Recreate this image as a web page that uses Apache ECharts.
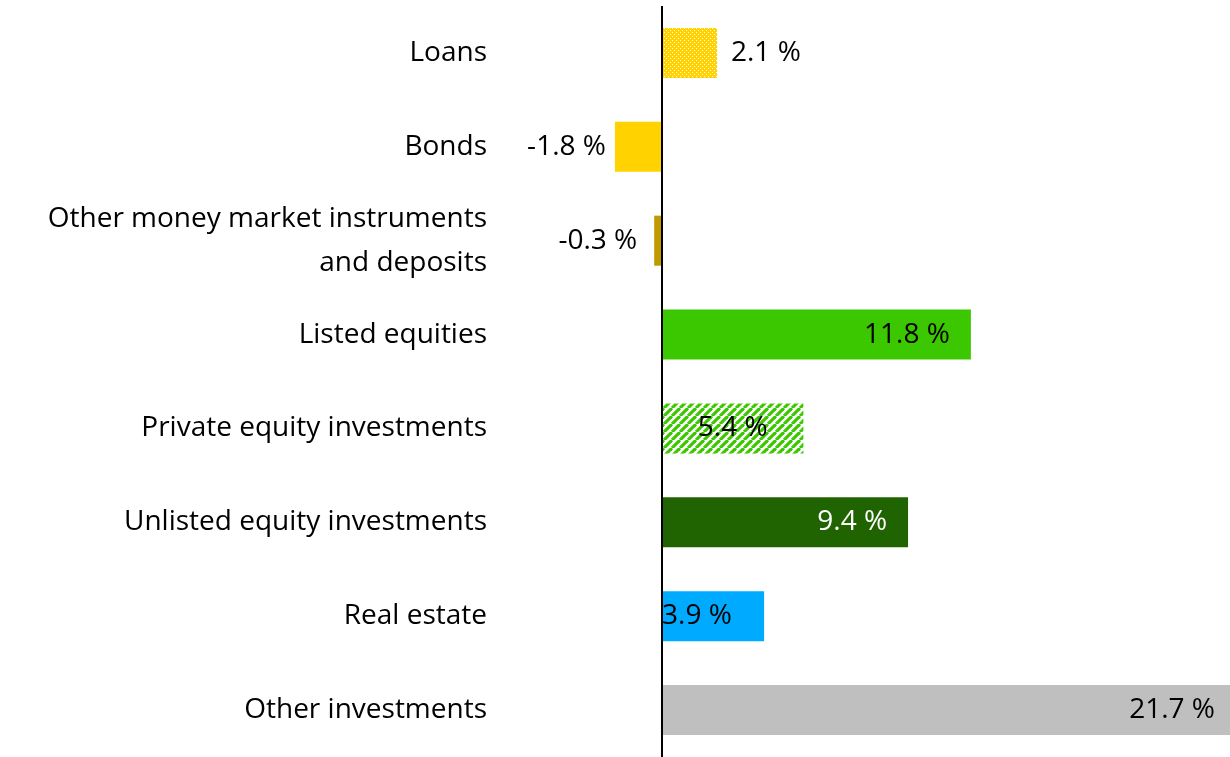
<!DOCTYPE html>
<html>
<head>
<meta charset="utf-8">
<script src="https://cdn.jsdelivr.net/npm/echarts@6/dist/echarts.min.js"></script>
<style>
  html, body { margin: 0; padding: 0; background: #fff; }
  #chart { width: 1230px; height: 757px; }
</style>
</head>
<body>
<div id="chart"></div>
<script>
const categories = [
  'Loans',
  'Bonds',
  'Other money market instruments\nand deposits',
  'Listed equities',
  'Private equity investments',
  'Unlisted equity investments',
  'Real estate',
  'Other investments'
];
const values = [2.1, -1.8, -0.3, 11.8, 5.4, 9.4, 3.9, 21.7];

// small canvas tiles for the two patterned bars
function dotTile() {
  const c = document.createElement('canvas');
  c.width = 4; c.height = 4;
  const g = c.getContext('2d');
  g.fillStyle = '#FFD200';
  g.fillRect(0, 0, 4, 4);
  g.fillStyle = '#ffffff';
  g.fillRect(0, 0, 1, 1);
  g.fillRect(2, 2, 1, 1);
  return c;
}
function stripeTile() {
  const s = 8;
  const c = document.createElement('canvas');
  c.width = s; c.height = s;
  const g = c.getContext('2d');
  g.fillStyle = '#ffffff';
  g.fillRect(0, 0, s, s);
  g.strokeStyle = '#3CC800';
  g.lineWidth = 3.2;
  for (let k = -1; k <= 1; k++) {
    g.beginPath();
    g.moveTo(k * s, s);
    g.lineTo(k * s + s, 0);
    g.stroke();
  }
  return c;
}

const fills = [
  { image: dotTile(), repeat: 'repeat' },
  '#FFD200',
  '#C09A00',
  '#3CC800',
  { image: stripeTile(), repeat: 'repeat' },
  '#1F6400',
  '#00AAFF',
  '#BFBFBF'
];
const labelPos = ['right', 'left', 'left', 'insideRight', 'inside', 'insideRight', 'insideLeft', 'insideRight'];
const labelDist = [14, 9, 17, 21, 0, 21, 0, 15];
const labelColor = ['#000', '#000', '#000', '#000', '#000', '#fff', '#000', '#000'];

const FONT = 'Open Sans';

const chart = echarts.init(document.getElementById('chart'));

chart.setOption({
  animation: false,
  grid: { left: 505, right: 0, top: 6, bottom: -2 },
  xAxis: {
    type: 'value',
    min: -6,
    max: 21.7,
    show: false
  },
  yAxis: {
    type: 'category',
    inverse: true,
    data: categories,
    axisLine: { show: false },
    axisTick: { show: false },
    splitLine: { show: false },
    axisLabel: {
      margin: 18,
      color: '#000',
      fontFamily: FONT,
      fontSize: 28,
      lineHeight: 44,
      align: 'right'
    }
  },
  series: [{
    type: 'bar',
    barWidth: 50,
    data: values.map((v, i) => ({
      value: v,
      itemStyle: { color: fills[i] },
      label: {
        show: true,
        position: labelPos[i],
        distance: labelDist[i],
        color: labelColor[i],
        fontFamily: FONT,
        fontSize: 28,
        formatter: v.toFixed(1) + ' %'
      }
    })),
    markLine: {
      silent: true,
      symbol: 'none',
      label: { show: false },
      lineStyle: { color: '#000', width: 2, type: 'solid' },
      data: [{ xAxis: 0 }]
    }
  }]
});
</script>
</body>
</html>
